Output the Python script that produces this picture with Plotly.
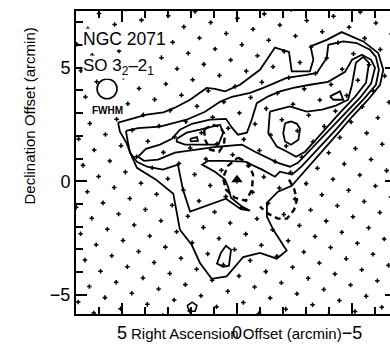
import numpy as np
import plotly.graph_objects as go

# Offsets (arcmin) relative to the map centre of NGC 2071.
# Solid contours: SO 3_2-2_1 integrated intensity, lowest level first.
lvl1_ra = [5.17, 4.58, 3.93, 3.20, 2.70, 2.04, 1.32, 0.96, 0.52, -0.13, -1.00, -1.65, -2.26, -2.38,
           -3.17, -3.32, -3.20, -3.90, -4.55, -5.49, -6.14, -6.36, -6.22, -5.70, -5.00, -4.48, -3.91,
           -3.43, -2.96, -2.61, -2.38, -1.78, -1.30, -1.30, -1.58, -2.16, -1.73, -1.00, -0.27, 0.45,
           1.10, 1.61, 1.97, 2.48, 2.62, 2.77, 3.52, 4.35, 4.61, 4.80, 5.09]
lvl1_dec = [2.58, 2.75, 2.93, 3.03, 3.24, 3.59, 4.11, 4.07, 3.96, 4.25, 4.91, 5.89, 5.70, 4.84,
            4.84, 5.35, 5.94, 6.23, 6.57, 6.16, 5.65, 4.91, 4.25, 3.59, 2.84, 2.22, 1.56,
            1.04, 0.51, 0.07, -0.20, -0.46, -0.95, -1.56, -2.14, -3.05, -3.41, -3.16, -3.34, -4.19,
            -4.30, -3.60, -2.80, -2.14, -1.40, -0.55, 0.07, 0.59, 1.17, 1.68, 2.18]

lvl1b_ra = [0.70, 0.48, 0.26, 0.35, 0.61, 0.87]
lvl1b_dec = [-3.15, -2.84, -3.02, -3.72, -3.77, -3.63]

lvl2_ra = [4.83, 4.30, 3.35, 2.19, 1.39, 0.74, 0.22, -0.57, -1.14, -2.16, -3.03, -3.47, -3.90, -3.97,
           -4.62, -5.20, -5.78, -6.04, -6.17, -6.04, -5.52, -4.83, -4.30, -3.74, -3.26, -2.83, -2.65,
           -2.39, -1.87, -1.65, -1.09, -0.35, 0.52, 1.26, 1.52, 0.96, 0.52, 0.39, 0.26, -0.22, -0.57,
           -0.17, 0.48, 1.26, 2.04, 2.35, 2.57, 3.22, 3.91, 4.35, 4.65, 4.75]
lvl2_dec = [2.22, 2.34, 2.41, 2.71, 3.06, 3.50, 3.72, 3.89, 4.11, 4.55, 4.69, 4.77, 5.43, 6.01,
            6.16, 6.09, 5.79, 5.48, 4.91, 4.25, 3.63, 2.89, 2.27, 1.65, 1.12, 0.68, 0.51,
            0.29, 0.42, 0.20, 0.51, 0.86, 0.90, 0.90, 0.73, 0.42, 0.07, -0.24, -0.73, -1.12, -1.30,
            -1.23, -0.77, -1.04, -1.34, -0.37, 0.73, 0.51, 0.64, 0.86, 1.26, 1.75]

lvl3_ra = [4.30, 3.96, 3.35, 2.83, 2.48, 1.96, 1.17, 0.48, 0.22, -0.04, -0.43, -0.64, -0.86, -1.36,
           -1.87, -2.45, -3.17, -3.96, -4.70, -5.00, -5.43, -5.83, -6.00, -5.83, -5.35, -4.65, -4.09,
           -3.52, -3.09, -2.65, -2.30, -1.78, -0.78, -0.22, 0.83, 1.83, 2.70, 3.43, 4.04]
lvl3_dec = [1.08, 1.43, 1.61, 1.87, 2.27, 2.53, 2.71, 2.75, 2.36, 2.05, 2.14, 2.71, 3.44, 3.74,
            3.96, 4.11, 4.25, 4.38, 4.82, 5.35, 5.57, 5.35, 5.00, 4.30, 3.68, 2.93, 2.31,
            1.74, 1.26, 0.81, 0.64, 0.81, 1.30, 1.61, 1.52, 1.39, 1.26, 0.95, 0.90]

lvl3b_ra = [-4.04, -4.48, -4.62, -4.19]
lvl3b_dec = [3.74, 3.96, 3.59, 3.59]

lvl4_ra = [-1.43, -2.30, -3.03, -3.70, -4.30, -4.83, -5.00, -5.17, -5.48, -5.74, -5.61, -5.13, -4.48,
           -3.91, -3.43, -2.96, -2.57, -2.16, -1.73, -1.36]
lvl4_dec = [3.07, 3.30, 3.07, 3.15, 3.33, 3.59, 4.25, 5.22, 5.48, 5.22, 4.34, 3.72, 3.02,
            2.40, 1.83, 1.30, 1.08, 1.31, 1.53, 2.12]

lvl4b_ra = [2.62, 2.19, 1.61, 0.74, 0.60, 0.81, 1.61, 2.26, 2.62]
lvl4b_dec = [1.87, 2.14, 2.27, 2.49, 2.14, 1.61, 1.61, 1.61, 1.75]

lvl5_ra = [-2.09, -2.35, -2.61, -2.74, -2.67, -2.35, -2.09, -2.01]
lvl5_dec = [2.56, 2.63, 2.53, 2.31, 1.83, 1.61, 1.75, 2.12]

lvl5b_ra = [2.04, 1.74, 1.70, 2.00]
lvl5b_dec = [1.87, 1.94, 1.78, 1.76]

# Dashed contours
dash1_ra = [1.43, 1.09, 0.74, 0.52, 0.57, 0.78, 1.17, 1.39]
dash1_dec = [2.27, 2.49, 2.40, 2.05, 1.61, 1.30, 1.39, 1.83]
dash2_ra = [-0.04, -0.48, -0.70, -0.65, -0.39, 0.09, 0.48, 0.61, 0.39]
dash2_dec = [1.04, 0.81, 0.29, -0.37, -0.86, -0.73, -0.37, 0.15, 0.68]
dash3_ra = [-2.26, -2.48, -2.61, -2.48, -2.17, -1.78, -1.35, -1.00]
dash3_dec = [0.07, -0.33, -0.81, -1.26, -1.65, -1.65, -1.43, -1.12]

# Sources
star_ra, star_dec = [0.0], [0.07]
pent_ra, pent_dec = [1.95], [-5.55]

# Sampling grid: 50" spacing, rotated grid
GRID_SPACING = 0.835
GRID_ANGLE = 35.7
grid_idx = np.arange(-16, 17)

# Beam
BEAM_RA, BEAM_DEC, BEAM_FWHM = 5.65, 4.07, 0.87

X_RANGE = [7.0, -6.652]
Y_RANGE = [-5.85, 7.5]
FONT = "Liberation Sans, Arial, Helvetica, sans-serif"

fig = go.Figure()

# sampled positions
th = np.deg2rad(GRID_ANGLE)
ii, jj = np.meshgrid(grid_idx, grid_idx)
gx = GRID_SPACING * (ii * np.cos(th) - jj * np.sin(th))
gy = GRID_SPACING * (ii * np.sin(th) + jj * np.cos(th))
gx, gy = gx.ravel(), gy.ravel()
fig.add_trace(go.Scatter(x=gx, y=gy, mode="markers",
                         marker=dict(symbol="cross", size=3.8, color="black"),
                         hoverinfo="skip", showlegend=False))

def closed(a):
    return list(a) + [a[0]]

solid = [(lvl1_ra, lvl1_dec), (lvl1b_ra, lvl1b_dec), (lvl2_ra, lvl2_dec), (lvl3_ra, lvl3_dec),
         (lvl3b_ra, lvl3b_dec), (lvl4_ra, lvl4_dec), (lvl4b_ra, lvl4b_dec), (lvl5_ra, lvl5_dec),
         (lvl5b_ra, lvl5b_dec)]
for ra, dec in solid:
    fig.add_trace(go.Scatter(x=closed(ra), y=closed(dec), mode="lines",
                             line=dict(color="black", width=1.8), showlegend=False))

for ra, dec, close_it in [(dash1_ra, dash1_dec, True), (dash2_ra, dash2_dec, True),
                          (dash3_ra, dash3_dec, False)]:
    xs = closed(ra) if close_it else ra
    ys = closed(dec) if close_it else dec
    fig.add_trace(go.Scatter(x=xs, y=ys, mode="lines",
                             line=dict(color="black", width=2.4, dash="6px,4px"), showlegend=False))

fig.add_trace(go.Scatter(x=star_ra, y=star_dec, mode="markers",
                         marker=dict(symbol="triangle-up", size=10, color="black"), showlegend=False))
fig.add_trace(go.Scatter(x=pent_ra, y=pent_dec, mode="markers", yaxis="y2",
                         marker=dict(symbol="pentagon-open", size=10, color="black",
                                     line=dict(width=1.6)), showlegend=False))

fig.add_shape(type="circle", xref="x", yref="y",
              x0=BEAM_RA - BEAM_FWHM / 2, x1=BEAM_RA + BEAM_FWHM / 2,
              y0=BEAM_DEC - BEAM_FWHM / 2, y1=BEAM_DEC + BEAM_FWHM / 2,
              line=dict(color="black", width=1.6), fillcolor="white", layer="above")

fig.add_annotation(x=6.72, y=6.25, xref="x", yref="y", text="NGC 2071", showarrow=False,
                   xanchor="left", yanchor="middle", bgcolor="white", borderpad=0,
                   font=dict(family=FONT, size=17.5, color="black"))
fig.add_annotation(x=6.72, y=5.05, xref="x", yref="y", text="SO 3<sub>2</sub>\u20132<sub>1</sub>",
                   showarrow=False, xanchor="left", yanchor="middle", bgcolor="white", borderpad=0,
                   font=dict(family=FONT, size=17, color="black"))
fig.add_annotation(x=BEAM_RA, y=3.11, xref="x", yref="y", text="<b>FWHM</b>", showarrow=False,
                   bgcolor="white", borderpad=0, font=dict(family=FONT, size=10, color="black"))

fig.add_annotation(x=0.5096, y=-0.0975, xref="paper", yref="paper",
                   text="Right Ascension Offset (arcmin)", showarrow=False,
                   font=dict(family=FONT, size=15, color="black"))
fig.add_annotation(x=-0.1815, y=0.6535, xref="paper", yref="paper", textangle=-90,
                   text="Declination Offset (arcmin)", showarrow=False,
                   font=dict(family=FONT, size=15, color="black"))

axis_common = dict(showgrid=False, zeroline=False, ticks="inside", tickcolor="black",
                   tickwidth=1.5, ticklen=11, dtick=5, tick0=0,
                   tickfont=dict(family=FONT, size=18, color="black"),
                   minor=dict(ticks="inside", dtick=1, ticklen=7, tickwidth=1.5, tickcolor="black"))

fig.update_layout(
    width=390, height=352,
    margin=dict(l=76, r=0, t=11, b=38),
    plot_bgcolor="white", paper_bgcolor="white",
    xaxis=dict(range=X_RANGE, showline=True, linecolor="black", linewidth=2, mirror="ticks",
               ticklabelstandoff=1, **axis_common),
    yaxis=dict(range=Y_RANGE, showline=True, linecolor="black", linewidth=2, mirror=False,
               **axis_common),
    yaxis2=dict(range=Y_RANGE, overlaying="y", side="right", matches="y", showline=False,
                showgrid=False, zeroline=False, ticks="inside", ticklen=5, tickwidth=1.5,
                tickcolor="black", dtick=5, tick0=0, showticklabels=False),
    showlegend=False,
)

fig.write_html("out.html")
